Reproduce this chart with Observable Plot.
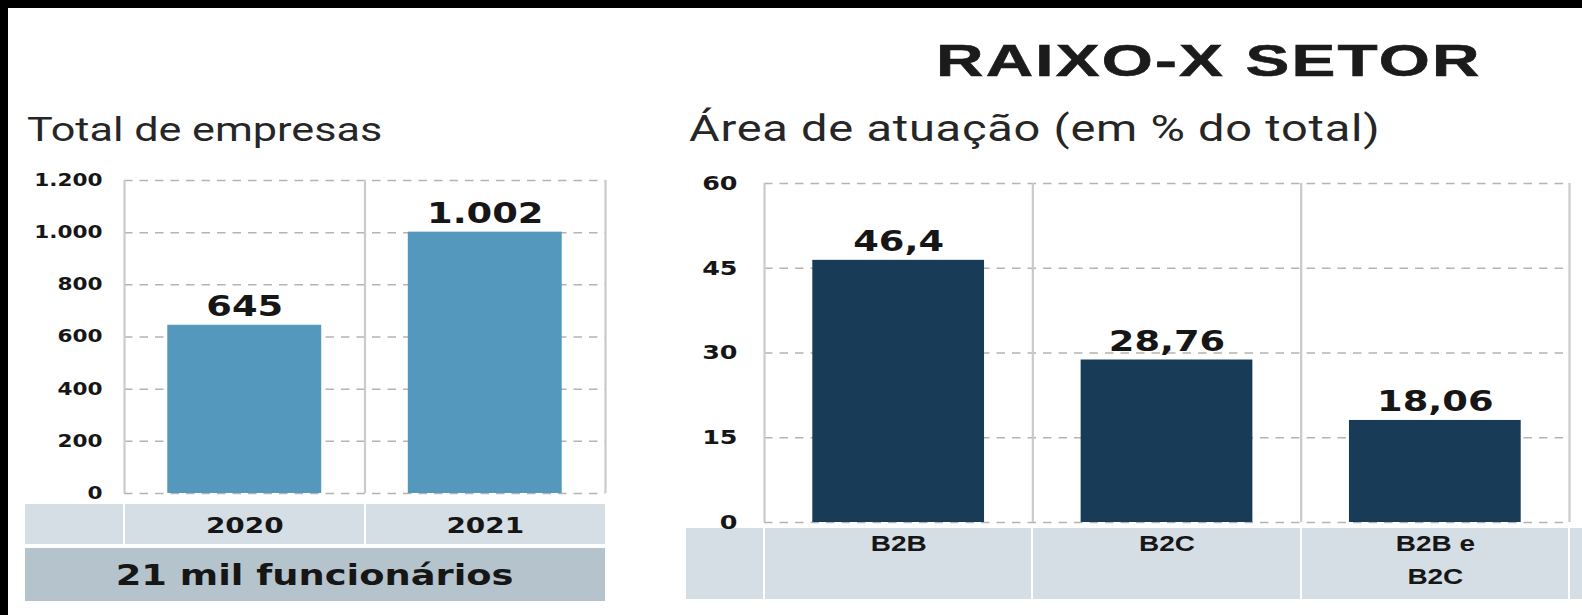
<!DOCTYPE html>
<html><head><meta charset="utf-8">
<script src="https://cdn.jsdelivr.net/npm/d3@7"></script>
<script src="https://cdn.jsdelivr.net/npm/@observablehq/plot@0.6"></script>
<style>
html,body{margin:0;padding:0;background:#fff;width:1582px;height:615px;overflow:hidden}
#topband{position:absolute;left:0;top:0;width:1582px;height:8px;background:#000;z-index:5}
#leftband{position:absolute;left:0;top:0;width:8px;height:615px;background:#000;z-index:5}
#page{position:absolute;left:0;top:0;width:1582px;height:615px;background:#fff;overflow:hidden}
#page svg{position:absolute;max-width:none}
.t{position:absolute;white-space:nowrap;line-height:1;transform-origin:0 0}
</style></head><body><div id="page"></div><div id="topband"></div><div id="leftband"></div>
<script>
// ---- data ----
const anos = ["2020", "2021"];
const totalEmpresas = [645, 1002];
const ticksEmpresas = [0, 200, 400, 600, 800, 1000, 1200];
const areas = ["B2B", "B2C", "B2B e\nB2C"];
const areaPct = [46.4, 28.76, 18.06];
const ticksArea = [0, 15, 30, 45, 60];
const titulo = "RAIXO-X SETOR";
const subtituloEsq = "Total de empresas";
const subtituloDir = "Área de atuação (em % do total)";
const rodapeEsq = "21 mil funcionários";

// ---- layout ----
const S = 1.27; // horizontal stretch of the lettering in the original
const page = document.getElementById("page");
function addDiv(style, text, cls) {
  const d = document.createElement("div");
  if (cls) d.className = cls;
  Object.assign(d.style, {position: "absolute"}, style);
  if (text != null) d.textContent = text;
  page.appendChild(d);
  return d;
}
function stretchText(svg, k) {
  svg.querySelectorAll("text").forEach(t => {
    const spans = t.querySelectorAll("tspan");
    (spans.length ? [...spans] : [t]).forEach(e => {
      const w = e.getComputedTextLength();
      if (w > 0) { e.setAttribute("textLength", w * k); e.setAttribute("lengthAdjust", "spacingAndGlyphs"); }
    });
  });
}
const loc = d3.formatLocale({decimal: ",", thousands: ".", grouping: [3], currency: ["R$", ""]});
const fmtInt = loc.format(",d");
const fmtDec = loc.format(",.2~f");
const PI = 0.36, PO = 0.18;
const gridStyle = {stroke: "#b4b4b4", strokeOpacity: 1, strokeWidth: 1.5, strokeDasharray: "8.5,7"};
const sepStyle = {stroke: "#cacaca", strokeOpacity: 1, strokeWidth: 2.2};
const textDark = "#161616";

// ---- titles ----
addDiv({left: "936px", top: (73 - 0.8465 * 45) + "px", font: "bold 45px 'Liberation Sans', Arial, sans-serif", letterSpacing: "1.5px",
  color: "#1b1b1b", transform: "scaleX(1.46)", webkitTextStroke: "0.6px #1b1b1b"}, titulo, "t");
addDiv({left: "27px", top: (138 - 0.8415 * 34) + "px", font: "34px Roboto, sans-serif", color: "#262626", transform: `scaleX(${S})`}, subtituloEsq, "t");
addDiv({left: "689px", top: (138 - 0.8415 * 37) + "px", font: "37px Roboto, sans-serif", letterSpacing: "0.6px", color: "#262626", transform: `scaleX(${S})`}, subtituloDir, "t");

// ---- left chart ----
{
  const svgLeft = 8, svgTop = 150, frameL = 124, frameR = 605, width = 612;
  const marginLeft = frameL - svgLeft, marginRight = svgLeft + width - frameR;
  const marginTop = 180 - svgTop, plotH = 493 - 180, marginBottom = 52;
  const step = (frameR - frameL) / (anos.length - PI + 2 * PO);
  const rows = anos.map((a, i) => ({ano: a, valor: totalEmpresas[i]}));

  addDiv({left: "25px", top: "504px", width: (605 - 25) + "px", height: "40px", background: "#d6dee5"});
  for (let i = 0; i < anos.length; i++) {
    addDiv({left: (frameL + i * step - 1) + "px", top: "504px", width: "2px", height: "40px", background: "#fff"});
  }
  const foot = addDiv({left: "25px", top: "548px", width: (605 - 25) + "px", height: "53px", background: "#b5c3cc",
    display: "flex", alignItems: "center", justifyContent: "center"});
  const span = document.createElement("span");
  Object.assign(span.style, {display: "inline-block", font: "bold 29px 'DejaVu Sans', sans-serif", color: textDark, whiteSpace: "nowrap", transform: `scaleX(${S})`});
  span.textContent = rodapeEsq;
  foot.appendChild(span);

  const plot = Plot.plot({
    width, height: marginTop + plotH + marginBottom, marginLeft, marginRight, marginTop, marginBottom,
    style: {background: "transparent", overflow: "visible", fontFamily: "'DejaVu Sans', sans-serif"},
    x: {domain: anos, paddingInner: PI, paddingOuter: PO, round: false},
    y: {domain: [0, 1200]},
    marks: [
      Plot.gridY(ticksEmpresas, gridStyle),
      Plot.ruleX(anos, {x: d => d, dx: -step / 2, ...sepStyle}),
      Plot.ruleX(anos.slice(-1), {x: d => d, dx: step / 2, ...sepStyle}),
      Plot.barY(rows, {x: "ano", y: "valor", fill: "#5498bd"}),
      Plot.text(rows, {x: "ano", y: "valor", text: d => fmtInt(d.valor), dy: -9, lineAnchor: "bottom", fontSize: 29, fontWeight: "bold", fill: textDark, fontFamily: "'DejaVu Sans', sans-serif"}),
      Plot.axisY({ticks: ticksEmpresas, tickSize: 0, tickPadding: 124 - 102, tickFormat: fmtInt, fontSize: 17, fontWeight: "bold", fill: textDark, label: null}),
      Plot.axisX({tickSize: 0, tickPadding: 24, fontSize: 22, fontWeight: "bold", fill: textDark, label: null})
    ]
  });
  plot.style.left = svgLeft + "px";
  plot.style.top = svgTop + "px";
  page.appendChild(plot);
  stretchText(plot, S);
}

// ---- right chart ----
{
  const svgLeft = 670, svgTop = 150, frameL = 764, frameR = 1569, width = 1582 - svgLeft;
  const marginLeft = frameL - svgLeft, marginRight = svgLeft + width - frameR;
  const marginTop = 183 - svgTop, plotH = 522 - 183, marginBottom = 78;
  const step = (frameR - frameL) / (areas.length - PI + 2 * PO);
  const rows = areas.map((a, i) => ({area: a, valor: areaPct[i]}));

  addDiv({left: "686px", top: "528px", width: (1582 - 686) + "px", height: "71px", background: "#d6dee5"});
  for (let i = 0; i <= areas.length; i++) {
    addDiv({left: (frameL + i * step - 1) + "px", top: "528px", width: "2px", height: "71px", background: "#fff"});
  }

  const plot = Plot.plot({
    width, height: marginTop + plotH + marginBottom, marginLeft, marginRight, marginTop, marginBottom,
    style: {background: "transparent", overflow: "visible", fontFamily: "'DejaVu Sans', sans-serif"},
    x: {domain: areas, paddingInner: PI, paddingOuter: PO, round: false},
    y: {domain: [0, 60]},
    marks: [
      Plot.gridY(ticksArea, gridStyle),
      Plot.ruleX(areas, {x: d => d, dx: -step / 2, ...sepStyle}),
      Plot.ruleX(areas.slice(-1), {x: d => d, dx: step / 2, ...sepStyle}),
      Plot.barY(rows, {x: "area", y: "valor", fill: "#183c58"}),
      Plot.text(rows, {x: "area", y: "valor", text: d => fmtDec(d.valor), dy: -9, lineAnchor: "bottom", fontSize: 29, fontWeight: "bold", fill: textDark, fontFamily: "'DejaVu Sans', sans-serif"}),
      Plot.axisY({ticks: ticksArea, tickSize: 0, tickPadding: 764 - 737, fontSize: 20, fontWeight: "bold", fill: textDark, label: null}),
      Plot.axisX({tickSize: 0, tickPadding: 5, fontSize: 22, fontWeight: "bold", lineHeight: 1.5, fill: textDark, label: null, fontFamily: "'Liberation Sans', Arial, sans-serif"})
    ]
  });
  plot.style.left = svgLeft + "px";
  plot.style.top = svgTop + "px";
  page.appendChild(plot);
  stretchText(plot, S);
}
</script>
</body></html>
